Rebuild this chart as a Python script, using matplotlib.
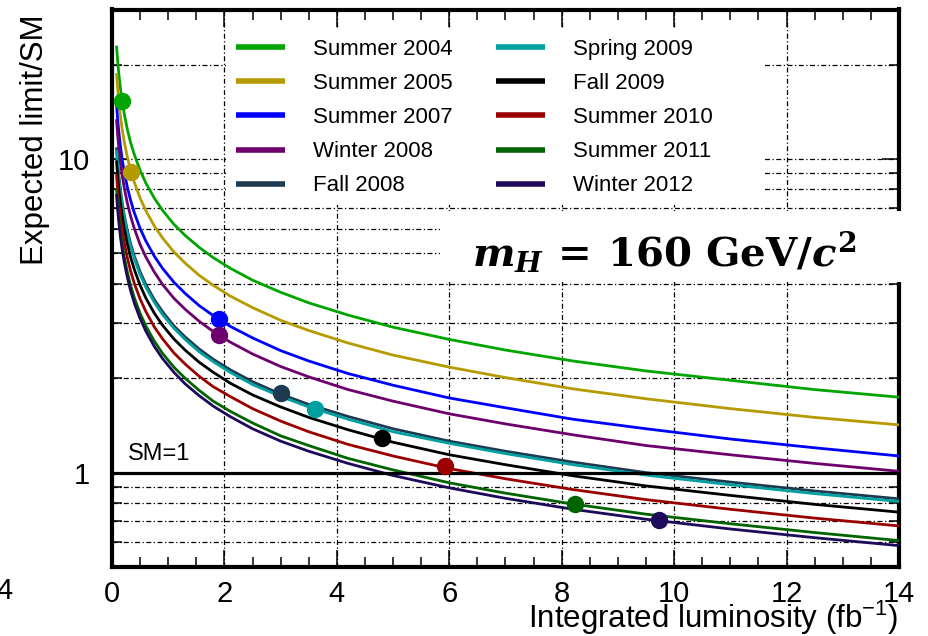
import matplotlib
matplotlib.use("Agg")
import matplotlib.pyplot as plt
from matplotlib.patches import Rectangle
from matplotlib.ticker import LogLocator, FixedLocator, MultipleLocator, NullFormatter, FixedFormatter

plt.rcParams['font.family'] = ['Liberation Sans', 'DejaVu Sans']
plt.rcParams['mathtext.fontset'] = 'custom'
plt.rcParams['mathtext.rm'] = 'DejaVu Serif:bold'
plt.rcParams['mathtext.it'] = 'DejaVu Serif:italic:bold'
plt.rcParams['mathtext.bf'] = 'DejaVu Serif:bold'
plt.rcParams['mathtext.sf'] = 'Liberation Sans'

# ---- data ----
labels = ["Summer 2004", "Summer 2005", "Summer 2007", "Winter 2008", "Fall 2008",
          "Spring 2009", "Fall 2009", "Summer 2010", "Summer 2011", "Winter 2012"]
colors = ["#00a500", "#b59a00", "#0000ff", "#6e006e", "#1e3a50",
          "#00a0a0", "#000000", "#9b0000", "#006400", "#1e0a5a"]

lumi = [0.08, 0.1, 0.12, 0.15, 0.18, 0.22, 0.27, 0.33, 0.4, 0.5, 0.6, 0.75, 0.9, 1.1, 1.3,
        1.55, 1.8, 2.1, 2.5, 3.0, 3.5, 4.2, 5, 6, 7, 8.2, 9.5, 11, 12.5, 14]

summer2004 = [23.0, 20.6, 18.8, 16.8, 15.3, 13.9, 12.5, 11.3, 10.3, 9.21, 8.40, 7.52, 6.86, 6.20, 5.71,
              5.23, 4.85, 4.49, 4.11, 3.76, 3.48, 3.18, 2.91, 2.66, 2.46, 2.27, 2.11, 1.97, 1.84, 1.74]
summer2005 = [18.8, 16.8, 15.3, 13.7, 12.5, 11.3, 10.2, 9.24, 8.40, 7.51, 6.86, 6.13, 5.60, 5.06, 4.66,
              4.26, 3.96, 3.66, 3.36, 3.06, 2.84, 2.59, 2.37, 2.17, 2.01, 1.85, 1.72, 1.60, 1.50, 1.42]
summer2007 = [15.0, 13.4, 12.3, 11.0, 10.0, 9.06, 8.18, 7.40, 6.72, 6.01, 5.49, 4.91, 4.48, 4.05, 3.73,
              3.41, 3.17, 2.93, 2.69, 2.45, 2.27, 2.07, 1.90, 1.73, 1.61, 1.48, 1.38, 1.28, 1.20, 1.13]
winter2008 = [13.4, 12.0, 10.9, 9.76, 8.91, 8.06, 7.28, 6.58, 5.98, 5.34, 4.88, 4.37, 3.98, 3.60, 3.32,
              3.04, 2.82, 2.61, 2.39, 2.18, 2.02, 1.84, 1.69, 1.54, 1.43, 1.32, 1.22, 1.14, 1.07, 1.01]
fall2008 = [10.9, 9.77, 8.92, 7.98, 7.28, 6.59, 5.95, 5.38, 4.89, 4.37, 3.99, 3.57, 3.26, 2.94, 2.71,
            2.48, 2.30, 2.13, 1.95, 1.78, 1.65, 1.51, 1.38, 1.26, 1.17, 1.08, 1.00, 0.933, 0.874, 0.825]
spring2009 = [10.7, 9.58, 8.75, 7.82, 7.14, 6.46, 5.83, 5.28, 4.79, 4.28, 3.91, 3.50, 3.19, 2.89, 2.66,
              2.43, 2.26, 2.09, 1.91, 1.75, 1.62, 1.48, 1.35, 1.24, 1.15, 1.06, 0.982, 0.915, 0.857, 0.809]
fall2009 = [9.90, 8.85, 8.08, 7.23, 6.60, 5.97, 5.39, 4.87, 4.43, 3.96, 3.61, 3.23, 2.95, 2.67, 2.46,
            2.25, 2.09, 1.93, 1.77, 1.62, 1.50, 1.37, 1.25, 1.14, 1.06, 0.977, 0.907, 0.846, 0.792, 0.748]
summer2010 = [8.95, 8.00, 7.30, 6.53, 5.96, 5.39, 4.87, 4.40, 4.00, 3.58, 3.27, 2.92, 2.67, 2.41, 2.22,
              2.03, 1.88, 1.75, 1.60, 1.46, 1.35, 1.23, 1.13, 1.03, 0.956, 0.883, 0.820, 0.764, 0.716, 0.676]
summer2011 = [8.04, 7.19, 6.57, 5.87, 5.36, 4.85, 4.38, 3.96, 3.60, 3.22, 2.94, 2.63, 2.40, 2.17, 2.00,
              1.83, 1.69, 1.57, 1.44, 1.31, 1.22, 1.11, 1.02, 0.928, 0.860, 0.794, 0.737, 0.687, 0.644, 0.607]
winter2012 = [7.74, 6.92, 6.32, 5.65, 5.16, 4.67, 4.22, 3.81, 3.46, 3.10, 2.83, 2.53, 2.31, 2.09, 1.92,
              1.76, 1.63, 1.51, 1.38, 1.26, 1.17, 1.07, 0.979, 0.894, 0.828, 0.764, 0.710, 0.661, 0.620, 0.585]

series = [summer2004, summer2005, summer2007, winter2008, fall2008,
          spring2009, fall2009, summer2010, summer2011, winter2012]

dot_lumi = [0.18, 0.34, 1.9, 1.9, 3.0, 3.62, 4.8, 5.93, 8.23, 9.73]
dot_limit = [15.3, 9.1, 3.08, 2.74, 1.79, 1.60, 1.29, 1.05, 0.796, 0.708]

xticks = [0, 2, 4, 6, 8, 10, 12, 14]
yticks = [1, 10]
ytick_labels = ["1", "10"]

# ---- figure ----
W, H = 929, 636
fig = plt.figure(figsize=(W / 100, H / 100), dpi=100)
ax = fig.add_axes([112 / W, 1 - 567 / H, (899 - 112) / W, (567 - 9.5) / H])

ax.set_yscale('log')
ax.set_xlim(0, 14)
ax.set_ylim(0.5, 30)

for y, c, lab in zip(series, colors, labels):
    ax.plot(lumi, y, color=c, lw=2.0, label=lab, zorder=3, solid_capstyle='butt')
for xd, yd, c in zip(dot_lumi, dot_limit, colors):
    ax.plot([xd], [yd], 'o', color=c, ms=11.5, zorder=4)

ax.axhline(1.0, color='black', lw=2.3, zorder=3)
ax.text(0.29, 1.10, "SM=1", fontsize=17, va='baseline', ha='left')

# ticks
ax.xaxis.set_major_locator(FixedLocator(xticks))
ax.xaxis.set_minor_locator(MultipleLocator(0.5))
ax.yaxis.set_major_locator(FixedLocator(yticks))
ax.yaxis.set_major_formatter(FixedFormatter(ytick_labels))
ax.yaxis.set_minor_locator(LogLocator(base=10, subs=range(2, 10)))
ax.yaxis.set_minor_formatter(NullFormatter())
ax.tick_params(which='both', direction='in', top=True, right=True, width=1.1, labelsize=21)
ax.tick_params(which='major', length=12)
ax.tick_params(which='minor', length=7)
ax.tick_params(axis='x', which='major', pad=9)
ax.tick_params(axis='y', which='major', pad=16)

gs = dict(color='black', lw=0.9, linestyle=(0, (4, 2, 1, 2)))
ax.grid(True, which='major', axis='x', **gs)
ax.grid(True, which='both', axis='y', **gs)

for s in ax.spines.values():
    s.set_linewidth(3.0)

# legend white area covering the grid
ax.add_patch(Rectangle((226 / W, 1 - 205 / H), (765 - 226) / W, (205 - 30) / H,
                       transform=fig.transFigure, facecolor='white', edgecolor='none', zorder=2))

leg = ax.legend(ncol=2, loc='upper left', bbox_to_anchor=(236 / W, 1 - 39 / H),
                bbox_transform=fig.transFigure, frameon=False, fontsize=16,
                handlelength=2.2, handletextpad=1.26, columnspacing=1.94,
                labelspacing=0.59, borderpad=0.0, borderaxespad=0.0)
for ln in leg.get_lines():
    ln.set_linewidth(4)
leg.set_zorder(5)

# axis labels
fig.text(898 / W, 1 - 628 / H, r"Integrated luminosity (fb$^{\mathsf{-1}}$)",
         fontsize=22.5, ha='right', va='baseline')
fig.text(35 / W, 1 - 140 / H, "Expected limit/SM", fontsize=22.5, rotation=90,
         ha='center', va='center')
fig.text(-4 / W, 1 - 591 / H, "4", fontsize=21, ha='left', va='center')

# mass box
fig.add_artist(Rectangle((440 / W, 1 - 282 / H), (W - 440) / W, (282 - 211) / H,
                         transform=fig.transFigure, facecolor='white', edgecolor='none', zorder=10))
fig.text(664 / W, 1 - 252 / H, r"$m_H\, = \,\mathrm{160\ GeV}/c^2$", fontsize=29,
         ha='center', va='center', zorder=11)

fig.savefig("out.png", dpi=100)
